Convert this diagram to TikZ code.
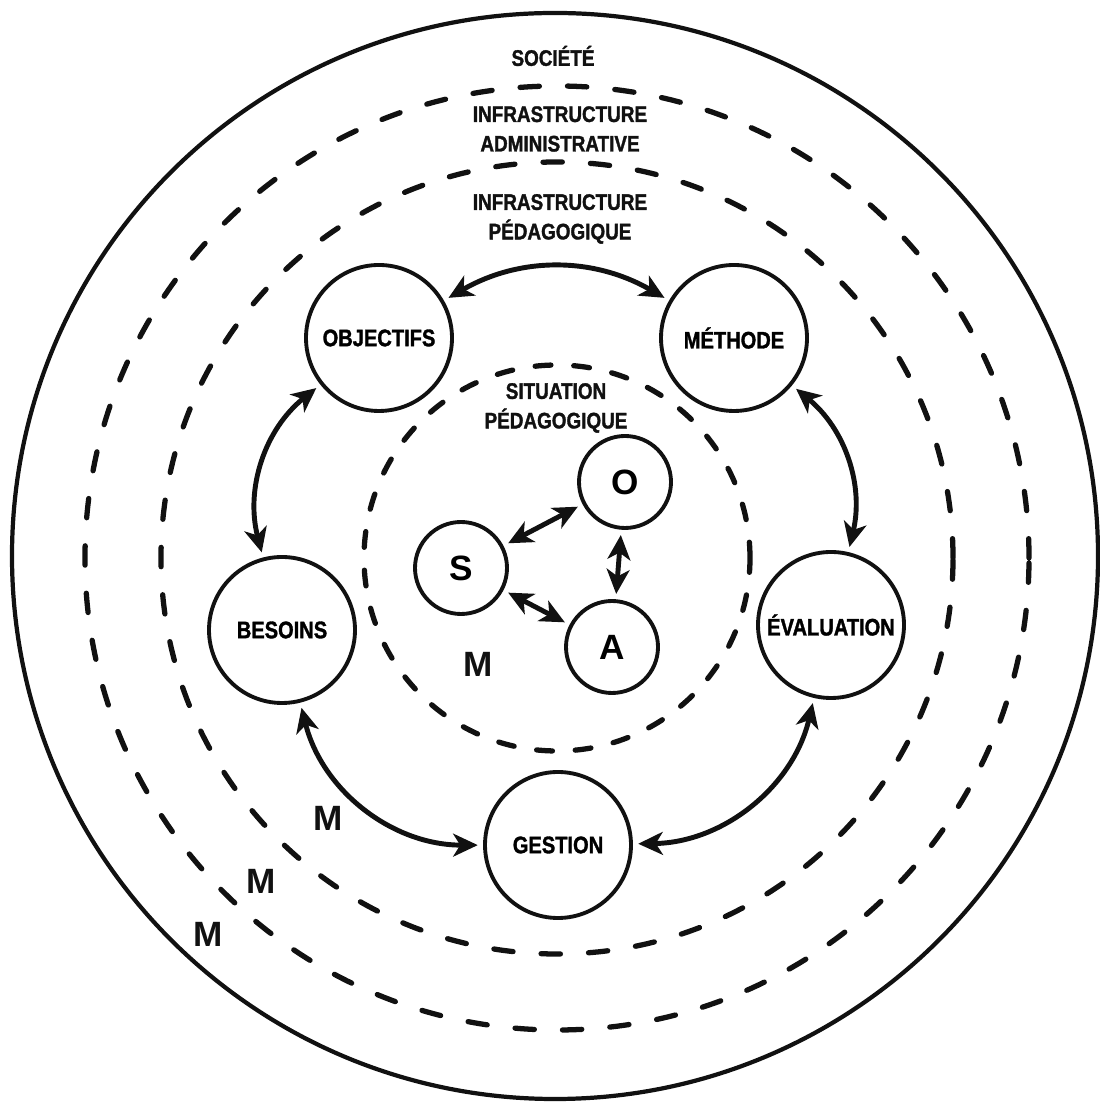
\documentclass[tikz,border=0pt]{standalone}
\usepackage{fontspec}
\setmainfont{Liberation Sans}
\newfontfamily\pedfont{Liberation Sans}[FakeStretch=0.84, BoldFeatures={FakeBold=1.4}]
\usetikzlibrary{arrows.meta}
\definecolor{pedInk}{HTML}{111111}
\tikzset{
  ped ring/.style={draw=pedInk, line width=1.2pt},
  ped zone/.style={draw=pedInk, line width=1.5pt, line cap=round, dash pattern=on 5.5pt off 8pt},
  ped core/.style={draw=pedInk, line width=1.5pt, line cap=round, dash pattern=on 4.5pt off 6.5pt},
  ped pole/.style={circle, draw=pedInk, line width=1.1pt, minimum size=14.6mm, inner sep=0pt, font=\pedfont\bfseries\fontsize{6.8}{8}\selectfont},
  ped agent/.style={circle, draw=pedInk, line width=1.1pt, minimum size=9.2mm, inner sep=0pt, font=\bfseries\fontsize{10}{11}\selectfont},
  ped link/.style={draw=pedInk, line width=1.4pt, >={Stealth[length=7pt,width=6.5pt,inset=2pt]}, <->, shorten <=1.5pt, shorten >=1.5pt},
  ped label/.style={font=\pedfont\bfseries\fontsize{6.4}{8.4}\selectfont, align=center, text=pedInk},
  ped milieu/.style={font=\bfseries\fontsize{10}{11}\selectfont, text=pedInk},
}

\begin{document}
\begin{tikzpicture}[x=1cm,y=1cm]
  \useasboundingbox (-5.57,-5.46) rectangle (5.42,5.58);
  % the nested spheres
  \draw[ped ring] (-0.02,0.02) circle (5.43);
  \draw[ped zone] (0,0) circle (4.72);
  \draw[ped zone] (0,0) circle (3.96);
  \draw[ped core] (0,0) circle (1.93);
  \node[ped label] (societe) at (-0.04,5.02) {SOCIÉTÉ};
  \node[ped label] (admin) at (0.03,4.29) {INFRASTRUCTURE\\ADMINISTRATIVE};
  \node[ped label] (pedago) at (0.03,3.39) {INFRASTRUCTURE\\PÉDAGOGIQUE};
  \node[ped label] (situation) at (-0.01,1.50) {SITUATION\\PÉDAGOGIQUE};
  % the five poles
  \node[ped pole] (obj) at (-1.78,2.20) {OBJECTIFS};
  \node[ped pole] (met) at (1.77,2.20) {MÉTHODE};
  \node[ped pole] (bes) at (-2.75,-0.72) {BESOINS};
  \node[ped pole] (eval) at (2.74,-0.67) {ÉVALUATION};
  \node[ped pole] (ges) at (0.01,-2.87) {GESTION};
  \draw[ped link] (obj) to[bend left=30] (met);
  \draw[ped link] (met) to[bend left=32] (eval);
  \draw[ped link] (eval) to[bend left=38] (ges);
  \draw[ped link] (ges) to[bend left=38] (bes);
  \draw[ped link] (bes) to[bend left=33] (obj);
  % S, O, A in the milieu
  \node[ped agent] (o) at (0.68,0.76) {O};
  \node[ped agent] (s) at (-0.96,-0.10) {S};
  \node[ped agent] (a) at (0.55,-0.89) {A};
  \draw[ped link] (s) -- (o);
  \draw[ped link] (o) -- (a);
  \draw[ped link] (s) -- (a);
  \node[ped milieu] (m1) at (-0.79,-1.06) {M};
  \node[ped milieu] (m2) at (-2.29,-2.60) {M};
  \node[ped milieu] (m3) at (-2.96,-3.23) {M};
  \node[ped milieu] (m4) at (-3.49,-3.76) {M};
\end{tikzpicture}
\end{document}
